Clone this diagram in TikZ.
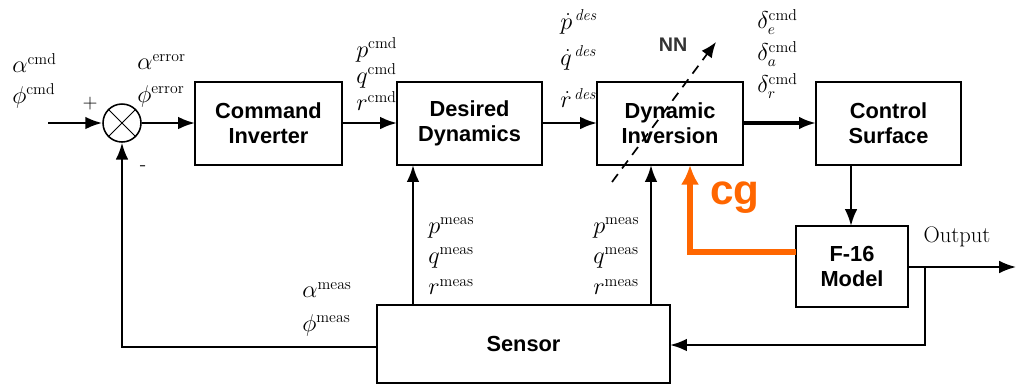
\documentclass[tikz,border=0pt]{standalone}
\usepackage{fontspec}
\setsansfont{Liberation Sans}
\usetikzlibrary{arrows.meta}
\definecolor{cgorange}{RGB}{255,102,0}
\tikzset{
  blk/.style={draw, line width=1.1pt, fill=white},
  blktext/.style={font=\sffamily\bfseries\fontsize{15.5}{17.5}\selectfont, align=center},
  sig/.style={line width=1.7pt, -{Latex[length=12pt,width=9pt]}},
  lbl/.style={font=\fontsize{16}{18}\selectfont, anchor=west, inner sep=0pt},
}
\begin{document}
\begin{tikzpicture}[x=0.025cm,y=-0.025cm]
\useasboundingbox (0,0) rectangle (1016,390);
% boxes
\draw[blk] (195,82) rectangle (342,165);
\node[blktext] (ci) at (268.5,123.5) {Command\\Inverter};
\draw[blk] (397,82) rectangle (542,165);
\node[blktext] (dd) at (469.5,123.5) {Desired\\Dynamics};
\draw[blk] (597,82) rectangle (743,165);
\node[blktext] (di) at (670,123.5) {Dynamic\\Inversion};
\draw[blk] (816,82) rectangle (961,165);
\node[blktext] (cs) at (888.5,123.5) {Control\\Surface};
\draw[blk] (796,226) rectangle (908,307);
\node[blktext] (f16) at (852,266.5) {F-16\\Model};
\draw[blk] (377,305) rectangle (670,383);
\node[blktext] (sen) at (523.5,344) {Sensor};
% coordinates
\coordinate (cin) at (48,123);
\coordinate (ciL) at (195,123);
\coordinate (ciR) at (342,123);
\coordinate (ddL) at (397,123);
\coordinate (ddR) at (542,123);
\coordinate (diL) at (597,123);
\coordinate (diR) at (743,123);
\coordinate (csL) at (816,123);
\coordinate (csB) at (851,165);
\coordinate (fT) at (851,226);
\coordinate (fR) at (908,267);
\coordinate (fL) at (796,252);
\coordinate (outE) at (1016,267);
\coordinate (tap) at (925,267);
\coordinate (senR) at (670,345);
\coordinate (senL) at (377,347);
\coordinate (ddB) at (413,165);
\coordinate (senT1) at (413,305);
\coordinate (diB) at (651,165);
\coordinate (senT2) at (651,305);
\coordinate (cgB) at (690,165);
% summing junction
\node[draw, line width=1.1pt, circle, minimum size=38*0.025cm, inner sep=0pt] (sum) at (122,123) {};
\draw[line width=0.6pt] (sum.north west) -- (sum.south east) (sum.north east) -- (sum.south west);
% signal arrows
\draw[sig] (cin) -- (sum.west);
\draw[sig] (sum.east) -- (ciL);
\draw[sig] (ciR) -- (ddL);
\draw[sig] (ddR) -- (diL);
\draw[sig, line width=2.2pt] (diR) -- (csL);
\draw[sig] (csB) -- (fT);
\draw[line width=1.3pt, -{Latex[length=12pt,width=9pt]}] (fR) -- (outE);
\draw[sig] (tap) |- (senR);
\draw[sig] (senT1) -- (ddB);
\draw[sig] (senT2) -- (diB);
\draw[line width=1.3pt, -{Latex[length=12pt,width=9pt]}] (senL) -| (sum.south);
% orange cg
\draw[cgorange, line width=4pt, -{Latex[length=14pt,width=13pt]}] (fL) -| (cgB);
\node[text=cgorange, font=\sffamily\bfseries\fontsize{30}{32}\selectfont] (cg) at (735,198) {cg};
% NN dashed
\coordinate (nnA) at (612,182);
\coordinate (nnB) at (716,42);
\draw[line width=1.2pt, dash pattern=on 7pt off 5pt, -{Latex[length=11pt,width=9pt]}] (nnA) -- (nnB);
\node[font=\sffamily\bfseries\fontsize{14}{16}\selectfont, text=black!80] (nn) at (673,45) {NN};
% plus minus
\node[font=\fontsize{14}{16}\selectfont] (plus) at (90,104) {+};
\node[font=\fontsize{14}{16}\selectfont] (minus) at (143,168) {-};
% labels
\node[lbl] (acmd) at (12,63) {$\alpha^{\mathrm{cmd}}$};
\node[lbl] (pcmd) at (12,96) {$\phi^{\mathrm{cmd}}$};
\node[lbl] (aerr) at (137,62) {$\alpha^{\mathrm{error}}$};
\node[lbl] (perr) at (137,96) {$\phi^{\mathrm{error}}$};
\node[lbl] (pc) at (356,50) {$p^{\mathrm{cmd}}$};
\node[lbl] (qc) at (356,76) {$q^{\mathrm{cmd}}$};
\node[lbl] (rc) at (356,101) {$r^{\mathrm{cmd}}$};
\node[lbl] (pd) at (560,22) {$\dot{p}^{\,\mathit{des}}$};
\node[lbl] (qd) at (560,58) {$\dot{q}^{\,\mathit{des}}$};
\node[lbl] (rd) at (560,98) {$\dot{r}^{\,\mathit{des}}$};
\node[lbl] (de) at (757,22) {$\delta_e^{\mathrm{cmd}}$};
\node[lbl] (da) at (757,54) {$\delta_a^{\mathrm{cmd}}$};
\node[lbl] (dr) at (757,86) {$\delta_r^{\mathrm{cmd}}$};
\node[lbl] (pm1) at (428,228) {$p^{\mathrm{meas}}$};
\node[lbl] (qm1) at (428,258) {$q^{\mathrm{meas}}$};
\node[lbl] (rm1) at (428,287) {$r^{\mathrm{meas}}$};
\node[lbl] (pm2) at (593,228) {$p^{\mathrm{meas}}$};
\node[lbl] (qm2) at (593,258) {$q^{\mathrm{meas}}$};
\node[lbl] (rm2) at (593,287) {$r^{\mathrm{meas}}$};
\node[lbl] (am) at (302,290) {$\alpha^{\mathrm{meas}}$};
\node[lbl] (phm) at (302,325) {$\phi^{\mathrm{meas}}$};
\node[font=\fontsize{16}{18}\selectfont] (out) at (957,237) {Output};
\end{tikzpicture}
\end{document}
